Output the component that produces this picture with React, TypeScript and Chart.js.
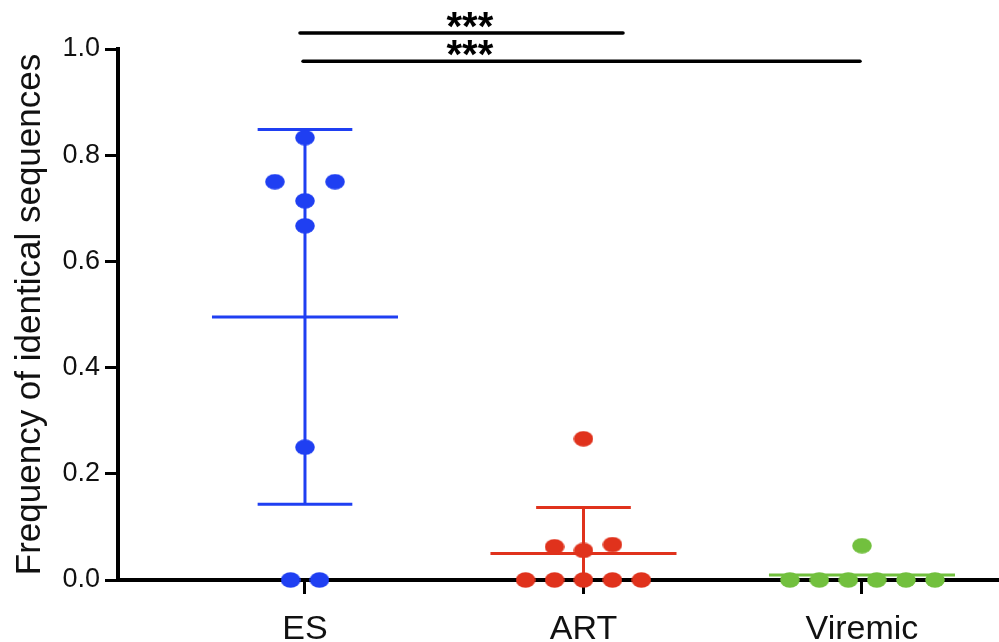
import React, { useEffect, useRef } from 'react';
import { Chart, registerables } from 'chart.js';

Chart.register(...registerables);

// ---- data ----
const categories = ['ES', 'ART', 'Viremic'];
const categoryPos = [1, 2, 3];
const yTicks = [0, 0.2, 0.4, 0.6, 0.8, 1.0];

const esValues = [0.833, 0.75, 0.75, 0.714, 0.667, 0.25, 0, 0];
const esJitter = [0, -0.108, 0.108, 0, 0, 0, -0.052, 0.052];

const artValues = [0.266, 0.0625, 0.0556, 0.0667, 0, 0, 0, 0, 0];
const artJitter = [0, -0.104, 0, 0.104, -0.208, -0.104, 0, 0.104, 0.208];

const viremicValues = [0.0646, 0, 0, 0, 0, 0, 0];
const viremicJitter = [0, -0.259, -0.153, -0.049, 0.053, 0.158, 0.262];

const showErrorBars = [true, true, false];

const bracketStart = [0.982, 0.993];
const bracketEnd = [2.142, 2.993];
const bracketLevel = [1.03, 0.977];
const bracketLabel = ['***', '***'];
const bracketLabelX = [1.592, 1.592];

const groupColors = ['#1f3ff2', '#e0321c', '#72c03e'];
const FONT = '"Liberation Sans", Arial, Helvetica, sans-serif';

const groupValues = [esValues, artValues, viremicValues];
const groupJitter = [esJitter, artJitter, viremicJitter];

function mean(a: number[]) {
  return a.reduce((s, v) => s + v, 0) / a.length;
}
function sd(a: number[]) {
  const m = mean(a);
  return Math.sqrt(a.reduce((s, v) => s + (v - m) * (v - m), 0) / (a.length - 1));
}

function makeDot(color: string) {
  const c = document.createElement('canvas');
  c.width = 20;
  c.height = 16;
  const ctx = c.getContext('2d')!;
  ctx.fillStyle = color;
  ctx.beginPath();
  ctx.ellipse(10, 8, 9.8, 7.8, 0, 0, Math.PI * 2);
  ctx.fill();
  return c;
}

const MEAN_HALF = 0.334;
const CAP_HALF = 0.17;

const statsPlugin = {
  id: 'statsPlugin',
  beforeDatasetsDraw(chart: any) {
    const { ctx, scales } = chart;
    const x = scales.x;
    const y = scales.y;
    ctx.save();
    ctx.lineWidth = 3;
    ctx.lineCap = 'butt';
    groupValues.forEach((vals, gi) => {
      const m = mean(vals);
      const s = sd(vals);
      const c = categoryPos[gi];
      ctx.strokeStyle = groupColors[gi];
      ctx.beginPath();
      ctx.moveTo(x.getPixelForValue(c - MEAN_HALF), y.getPixelForValue(m));
      ctx.lineTo(x.getPixelForValue(c + MEAN_HALF), y.getPixelForValue(m));
      ctx.stroke();
      if (!showErrorBars[gi]) return;
      const hi = m + s;
      const lo = Math.max(m - s, 0);
      const cx = x.getPixelForValue(c);
      ctx.beginPath();
      ctx.moveTo(cx, y.getPixelForValue(lo));
      ctx.lineTo(cx, y.getPixelForValue(hi));
      ctx.stroke();
      ctx.beginPath();
      ctx.moveTo(x.getPixelForValue(c - CAP_HALF), y.getPixelForValue(hi));
      ctx.lineTo(x.getPixelForValue(c + CAP_HALF), y.getPixelForValue(hi));
      ctx.stroke();
      if (m - s >= 0) {
        ctx.beginPath();
        ctx.moveTo(x.getPixelForValue(c - CAP_HALF), y.getPixelForValue(lo));
        ctx.lineTo(x.getPixelForValue(c + CAP_HALF), y.getPixelForValue(lo));
        ctx.stroke();
      }
    });
    ctx.restore();
  },
  afterDraw(chart: any) {
    const { ctx, scales } = chart;
    const x = scales.x;
    const y = scales.y;
    ctx.save();
    ctx.strokeStyle = '#000';
    ctx.fillStyle = '#000';
    ctx.lineWidth = 3.5;
    ctx.lineCap = 'round';
    bracketStart.forEach((b, i) => {
      const py = y.getPixelForValue(bracketLevel[i]);
      ctx.beginPath();
      ctx.moveTo(x.getPixelForValue(b), py);
      ctx.lineTo(x.getPixelForValue(bracketEnd[i]), py);
      ctx.stroke();
      ctx.font = `bold 40px ${FONT}`;
      ctx.textAlign = 'center';
      ctx.textBaseline = 'alphabetic';
      ctx.fillText(bracketLabel[i], x.getPixelForValue(bracketLabelX[i]), py + 7);
    });
    ctx.restore();
  },
};

export default function App() {
  const ref = useRef<HTMLCanvasElement | null>(null);
  useEffect(() => {
    document.body.style.margin = '0';
    const canvas = ref.current!;
    const datasets = groupValues.map((vals, gi) => ({
      label: categories[gi],
      data: vals.map((v, i) => ({ x: categoryPos[gi] + groupJitter[gi][i], y: v })),
      pointStyle: makeDot(groupColors[gi]) as any,
      pointRadius: 9,
      backgroundColor: groupColors[gi],
      borderColor: groupColors[gi],
      clip: false as any,
    }));
    const chart = new Chart(canvas, {
      type: 'scatter',
      data: { datasets },
      options: {
        animation: false,
        responsive: false,
        events: [],
        layout: { autoPadding: false, padding: { top: 49, left: 0, right: 0, bottom: 0 } },
        plugins: { legend: { display: false }, tooltip: { enabled: false } },
        scales: {
          x: {
            type: 'linear',
            min: 0.3286,
            max: 3.492,
            afterBuildTicks: (s: any) => {
              s.ticks = categoryPos.map((v) => ({ value: v }));
            },
            afterFit: (s: any) => {
              s.height = 62;
              s.paddingLeft = 0;
              s.paddingRight = 0;
            },
            ticks: {
              autoSkip: false,
              maxRotation: 0,
              padding: 15,
              color: '#111',
              font: { family: FONT, size: 34 },
              callback: (_v: any, i: number) => categories[i],
            },
            grid: {
              display: true,
              drawOnChartArea: false,
              drawTicks: true,
              tickLength: 14,
              tickWidth: 3,
              tickColor: '#000',
            },
            border: { display: true, color: '#000', width: 4 },
          },
          y: {
            type: 'linear',
            min: 0,
            max: 1,
            afterBuildTicks: (s: any) => {
              s.ticks = yTicks.map((v) => ({ value: v }));
            },
            afterFit: (s: any) => {
              s.width = 118;
            },
            ticks: {
              padding: 5,
              color: '#111',
              font: { family: FONT, size: 27 },
              callback: (v: any) => Number(v).toFixed(1),
            },
            grid: {
              display: true,
              drawOnChartArea: false,
              drawTicks: true,
              tickLength: 13,
              tickWidth: 3,
              tickColor: '#000',
            },
            border: { display: true, color: '#000', width: 4 },
            title: {
              display: true,
              text: 'Frequency of identical sequences',
              color: '#111',
              font: { family: FONT, size: 35 },
              padding: { top: 9, bottom: 0 },
            },
          },
        },
      },
      plugins: [statsPlugin],
    });
    return () => chart.destroy();
  }, []);
  return (
    <div style={{ width: 999, height: 642 }}>
      <canvas ref={ref} width={999} height={642} style={{ display: 'block', width: 999, height: 642 }} />
    </div>
  );
}
